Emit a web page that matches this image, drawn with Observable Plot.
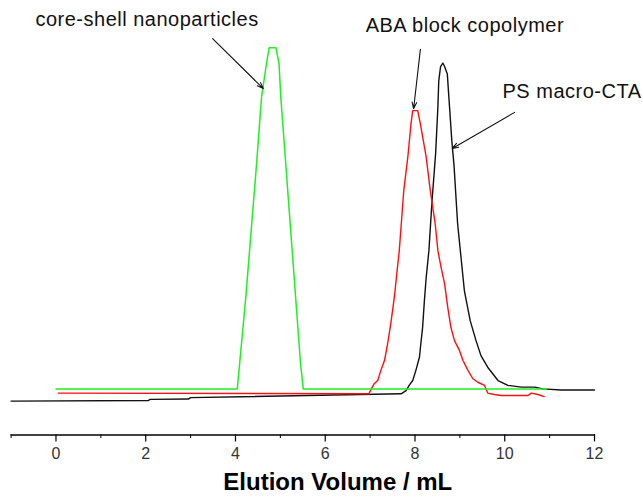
<!DOCTYPE html>
<html>
<head>
<meta charset="utf-8">
<script src="https://cdn.jsdelivr.net/npm/d3@7"></script>
<script src="https://cdn.jsdelivr.net/npm/@observablehq/plot@0.6"></script>
<style>
  html, body { margin: 0; padding: 0; background: #fff; }
  #chart { width: 642px; height: 496px; }
  .anno text { letter-spacing: 0.5px; }
</style>
</head>
<body>
<div id="chart"></div>
<script>
// Elution volume (mL) and detector response (arbitrary units)
const greenX = [0.00, 4.04, 4.23, 4.35, 4.47, 4.58, 4.69, 4.75, 4.90, 4.97, 5.01, 5.12, 5.23, 5.34, 5.45, 5.51, 10.93];
const greenY = [3.6, 3.6, 29.8, 48.9, 67.9, 86.9, 96.5, 101.1, 101.1, 96.5, 86.9, 67.9, 48.9, 29.8, 10.8, 3.6, 3.6];

const redX = [0.05, 6.97, 7.09, 7.17, 7.24, 7.32, 7.39, 7.46, 7.54, 7.61, 7.65, 7.75, 7.84, 7.91, 7.95, 8.06, 8.12, 8.25, 8.34, 8.45, 8.51, 8.58, 8.66, 8.73, 8.80, 8.88, 8.99, 9.07, 9.18, 9.29, 9.40, 9.55, 9.62, 9.77, 9.92, 10.52, 10.59, 10.74, 10.88];
const redY = [2.4, 2.2, 5.1, 6.0, 8.9, 11.7, 16.5, 22.2, 29.8, 38.4, 43.1, 60.3, 69.8, 79.3, 83.1, 83.1, 79.3, 69.8, 60.3, 50.8, 43.1, 38.4, 33.6, 26.9, 21.2, 17.4, 14.6, 11.7, 8.9, 6.5, 5.5, 4.6, 2.4, 2.0, 1.7, 1.7, 2.4, 2.0, 1.4];

const blackX = [-1.0, 2.06, 2.10, 2.95, 3.00, 6.79, 7.69, 7.80, 7.87, 7.95, 8.02, 8.10, 8.13, 8.17, 8.21, 8.25, 8.31, 8.38, 8.46, 8.51, 8.53, 8.57, 8.62, 8.66, 8.72, 8.77, 8.82, 8.87, 8.95, 9.10, 9.23, 9.36, 9.47, 9.62, 9.85, 10.07, 10.37, 10.67, 10.85, 11.26, 12.0];
const blackY = [0.1, 0.3, 0.6, 0.7, 1.1, 2.0, 2.2, 3.1, 4.6, 6.0, 8.9, 12.7, 16.5, 21.2, 28.9, 35.5, 43.1, 57.4, 70.9, 84.1, 91.7, 95.7, 96.7, 95.7, 93.6, 84.1, 74.6, 67.4, 50.8, 31.7, 23.1, 17.4, 13.1, 9.8, 6.0, 4.6, 4.1, 4.1, 3.6, 3.3, 3.3];

const majorTicks = [0, 2, 4, 6, 8, 10, 12];
const minorTicks = [-1, 1, 3, 5, 7, 9, 11];
const axisTitle = "Elution Volume / mL";

const labels = ["core-shell nanoparticles", "ABA block copolymer", "PS macro-CTA"];
const labelX = [-0.457, 6.90, 9.95];
const labelY = [109.0, 107.3, 88.5];
const arrowX1 = [3.49, 8.12, 10.22];
const arrowY1 = [103.7, 100.6, 82.6];
const arrowX2 = [4.62, 7.97, 8.83];
const arrowY2 = [89.4, 83.7, 72.3];

const toRows = (xs, ys) => xs.map((x, i) => ({x, y: ys[i]}));
const green = toRows(greenX, greenY);
const red = toRows(redX, redY);
const black = toRows(blackX, blackY);
const annos = labels.map((t, i) => ({t, x: labelX[i], y: labelY[i]}));
const arrows = labels.map((t, i) => ({x1: arrowX1[i], y1: arrowY1[i], x2: arrowX2[i], y2: arrowY2[i]}));

const chart = Plot.plot({
  width: 642,
  height: 496,
  marginLeft: 10.6,
  marginRight: 48,
  marginTop: 0,
  marginBottom: 61.5,
  style: {fontFamily: "'Liberation Sans', Arial, sans-serif", background: "#fff", color: "#000", overflow: "visible"},
  x: {domain: [-1, 12], axis: null},
  y: {domain: [-9.57, 114.57], axis: null},
  marks: [
    Plot.frame({anchor: "bottom", stroke: "#000", strokeWidth: 1.3}),
    Plot.axisX(minorTicks, {tickSize: 3.5, tickFormat: () => "", stroke: "#000"}),
    Plot.axisX(majorTicks, {tickSize: 7, tickPadding: 6, fontSize: 16, stroke: "#000", fill: "#333", strokeWidth: 1.2}),
    Plot.text([axisTitle], {text: d => d, frameAnchor: "bottom", dx: 35, dy: 37.5, lineAnchor: "top", fontSize: 24, fontWeight: "bold", fill: "#000"}),
    Plot.line(black, {x: "x", y: "y", stroke: "#111", strokeWidth: 1.4}),
    Plot.line(red, {x: "x", y: "y", stroke: "#ff1010", strokeWidth: 1.4}),
    Plot.line(green, {x: "x", y: "y", stroke: "#22ee22", strokeWidth: 1.5}),
    Plot.arrow(arrows, {x1: "x1", y1: "y1", x2: "x2", y2: "y2", stroke: "#111", strokeWidth: 1.1, headLength: 9, headAngle: 40}),
    Plot.text(annos, {x: "x", y: "y", text: "t", textAnchor: "start", fontSize: 20, fill: "#111", className: "anno"})
  ]
});
document.getElementById("chart").appendChild(chart);
</script>
</body>
</html>
